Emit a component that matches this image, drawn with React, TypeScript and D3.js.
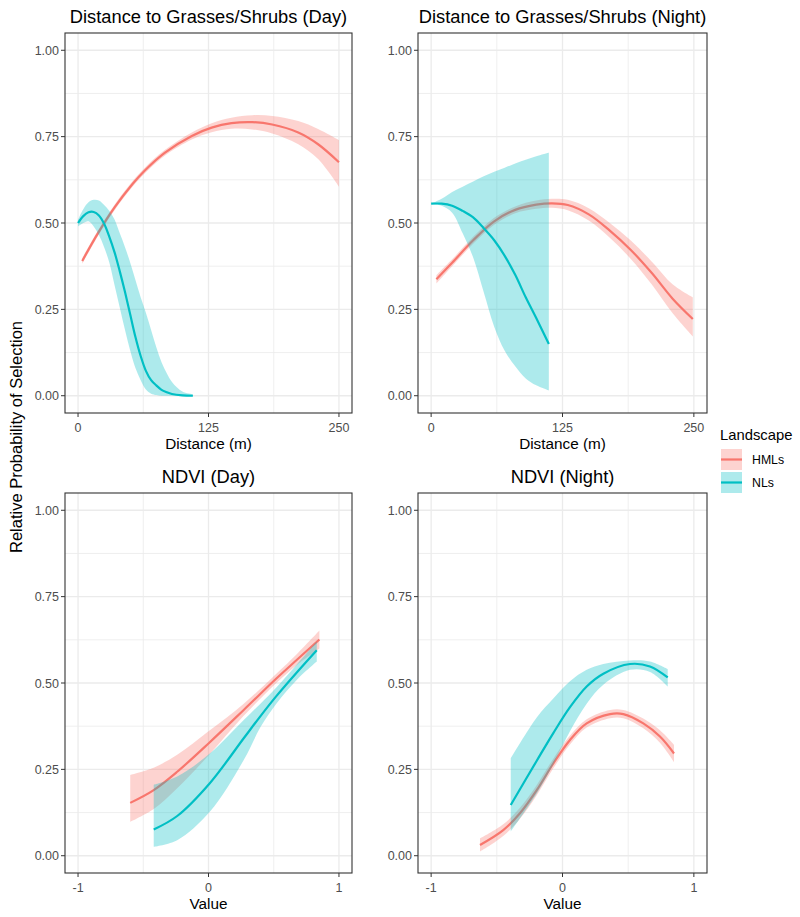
import React from "react";
import * as d3 from "d3";

// ---------- DATA ----------
const landscapes = ["HMLs", "NLs"];
const colors = ["#F8766D", "#00BFC4"];

const yTicks = [0, 0.25, 0.5, 0.75, 1];
const yMinor = [0.125, 0.375, 0.625, 0.875];
const yTickLabels = ["0.00", "0.25", "0.50", "0.75", "1.00"];

const distTicks = [0, 125, 250];
const distMinor = [62.5, 187.5];
const ndviTicks = [-1, 0, 1];
const ndviMinor = [-0.5, 0.5];

const panelTitles = [
  "Distance to Grasses/Shrubs (Day)",
  "Distance to Grasses/Shrubs (Night)",
  "NDVI (Day)",
  "NDVI (Night)",
];
const xTitles = ["Distance (m)", "Distance (m)", "Value", "Value"];
const yTitle = "Relative Probability of Selection";
const legendTitle = "Landscape";

// Distance to Grasses/Shrubs (Day)
const distDayHMLsX = [4, 19, 35, 52, 64, 83, 109, 128, 147, 167, 186, 211, 230, 250];
const distDayHMLsFit = [0.39, 0.47, 0.545, 0.612, 0.652, 0.703, 0.752, 0.776, 0.789, 0.792, 0.785, 0.762, 0.728, 0.676];
const distDayHMLsLo = [0.382, 0.462, 0.537, 0.604, 0.644, 0.695, 0.742, 0.763, 0.773, 0.771, 0.759, 0.728, 0.685, 0.605];
const distDayHMLsHi = [0.398, 0.478, 0.553, 0.62, 0.66, 0.711, 0.762, 0.789, 0.805, 0.812, 0.81, 0.795, 0.772, 0.74];

const distDayNLsX = [0, 5, 10, 15, 20, 25, 30, 35, 40, 45, 50, 55, 60, 65, 70, 75, 80, 85, 90, 100, 110];
const distDayNLsFit = [0.5, 0.52, 0.531, 0.532, 0.522, 0.498, 0.46, 0.415, 0.36, 0.3, 0.235, 0.17, 0.115, 0.072, 0.045, 0.03, 0.017, 0.01, 0.005, 0.001, 0.0];
const distDayNLsLo = [0.49, 0.5, 0.505, 0.49, 0.465, 0.43, 0.385, 0.32, 0.255, 0.19, 0.13, 0.08, 0.045, 0.018, 0.006, 0.002, 0.0, 0.0, 0.0, 0.0, 0.0];
const distDayNLsHi = [0.51, 0.54, 0.56, 0.567, 0.565, 0.552, 0.535, 0.51, 0.47, 0.43, 0.385, 0.335, 0.285, 0.24, 0.19, 0.14, 0.097, 0.065, 0.04, 0.012, 0.004];

// Distance to Grasses/Shrubs (Night)
const distNightHMLsX = [5, 20, 40, 60, 80, 100, 115, 130, 150, 170, 190, 210, 230, 249];
const distNightHMLsFit = [0.337, 0.385, 0.45, 0.505, 0.538, 0.553, 0.557, 0.552, 0.525, 0.478, 0.422, 0.355, 0.28, 0.222];
const distNightHMLsLo = [0.325, 0.375, 0.44, 0.495, 0.528, 0.541, 0.544, 0.537, 0.507, 0.457, 0.396, 0.322, 0.238, 0.172];
const distNightHMLsHi = [0.349, 0.395, 0.46, 0.515, 0.548, 0.565, 0.57, 0.567, 0.543, 0.5, 0.449, 0.388, 0.322, 0.285];

const distNightNLsX = [0, 10, 20, 30, 40, 50, 60, 70, 80, 90, 100, 112];
const distNightNLsFit = [0.556, 0.556, 0.55, 0.535, 0.516, 0.485, 0.45, 0.405, 0.35, 0.285, 0.225, 0.15];
const distNightNLsLo = [0.556, 0.55, 0.53, 0.47, 0.4, 0.3, 0.2, 0.13, 0.085, 0.05, 0.03, 0.015];
const distNightNLsHi = [0.556, 0.57, 0.59, 0.605, 0.62, 0.635, 0.648, 0.66, 0.672, 0.683, 0.693, 0.703];

// NDVI (Day)
const ndviDayHMLsX = [-0.6, -0.42, -0.24, 0, 0.27, 0.52, 0.68, 0.85];
const ndviDayHMLsFit = [0.153, 0.19, 0.243, 0.325, 0.422, 0.513, 0.568, 0.626];
const ndviDayHMLsLo = [0.098, 0.135, 0.195, 0.29, 0.405, 0.5, 0.553, 0.6];
const ndviDayHMLsHi = [0.234, 0.255, 0.292, 0.36, 0.44, 0.527, 0.585, 0.652];

const ndviDayNLsX = [-0.42, -0.24, 0.01, 0.27, 0.4, 0.52, 0.68, 0.83];
const ndviDayNLsFit = [0.076, 0.115, 0.21, 0.34, 0.405, 0.462, 0.532, 0.595];
const ndviDayNLsLo = [0.026, 0.045, 0.127, 0.277, 0.373, 0.44, 0.51, 0.562];
const ndviDayNLsHi = [0.205, 0.229, 0.296, 0.393, 0.441, 0.487, 0.555, 0.62];

// NDVI (Night)
const ndviNightHMLsX = [-0.628, -0.451, -0.324, -0.196, -0.07, 0.057, 0.184, 0.362, 0.463, 0.615, 0.742, 0.849];
const ndviNightHMLsFit = [0.031, 0.074, 0.123, 0.19, 0.267, 0.335, 0.383, 0.41, 0.41, 0.383, 0.345, 0.296];
const ndviNightHMLsLo = [0.012, 0.057, 0.107, 0.175, 0.253, 0.322, 0.371, 0.398, 0.398, 0.369, 0.327, 0.271];
const ndviNightHMLsHi = [0.05, 0.091, 0.139, 0.205, 0.281, 0.348, 0.395, 0.422, 0.422, 0.397, 0.363, 0.321];

const ndviNightNLsX = [-0.394, -0.196, -0.07, 0.057, 0.184, 0.311, 0.514, 0.666, 0.801];
const ndviNightNLsFit = [0.147, 0.275, 0.355, 0.43, 0.49, 0.527, 0.555, 0.548, 0.516];
const ndviNightNLsLo = [0.07, 0.18, 0.265, 0.36, 0.44, 0.495, 0.538, 0.532, 0.49];
const ndviNightNLsHi = [0.282, 0.4, 0.455, 0.505, 0.538, 0.555, 0.565, 0.562, 0.54];

// ---------- helpers ----------
const FONT = "'Liberation Sans', Arial, Helvetica, sans-serif";

type Series = { x: number[]; fit: number[]; lo: number[]; hi: number[] };
const mk = (x: number[], fit: number[], lo: number[], hi: number[]): Series => ({ x, fit, lo, hi });

const panels = [
  {
    left: 65, top: 33, w: 287, h: 380,
    xDomain: [-12.5, 262.5], xTicks: distTicks, xMinor: distMinor, xLabels: distTicks.map(String),
    series: [mk(distDayHMLsX, distDayHMLsFit, distDayHMLsLo, distDayHMLsHi), mk(distDayNLsX, distDayNLsFit, distDayNLsLo, distDayNLsHi)],
  },
  {
    left: 418, top: 33, w: 289, h: 380,
    xDomain: [-12.5, 262.5], xTicks: distTicks, xMinor: distMinor, xLabels: distTicks.map(String),
    series: [mk(distNightHMLsX, distNightHMLsFit, distNightHMLsLo, distNightHMLsHi), mk(distNightNLsX, distNightNLsFit, distNightNLsLo, distNightNLsHi)],
  },
  {
    left: 65, top: 493, w: 287, h: 380,
    xDomain: [-1.1, 1.1], xTicks: ndviTicks, xMinor: ndviMinor, xLabels: ndviTicks.map(String),
    series: [mk(ndviDayHMLsX, ndviDayHMLsFit, ndviDayHMLsLo, ndviDayHMLsHi), mk(ndviDayNLsX, ndviDayNLsFit, ndviDayNLsLo, ndviDayNLsHi)],
  },
  {
    left: 418, top: 493, w: 289, h: 380,
    xDomain: [-1.1, 1.1], xTicks: ndviTicks, xMinor: ndviMinor, xLabels: ndviTicks.map(String),
    series: [mk(ndviNightHMLsX, ndviNightHMLsFit, ndviNightHMLsLo, ndviNightHMLsHi), mk(ndviNightNLsX, ndviNightNLsFit, ndviNightNLsLo, ndviNightNLsHi)],
  },
];

const curve = d3.curveCatmullRom.alpha(0.5);

function Panel({ p, idx }: { p: any; idx: number }) {
  const x = d3.scaleLinear().domain(p.xDomain).range([0, p.w]);
  const y = d3.scaleLinear().domain([-0.05, 1.05]).range([p.h, 0]);
  const clipId = `clip${idx}`;
  return (
    <g transform={`translate(${p.left},${p.top})`}>
      <defs>
        <clipPath id={clipId}>
          <rect x={0} y={0} width={p.w} height={p.h} />
        </clipPath>
      </defs>
      <rect x={0} y={0} width={p.w} height={p.h} fill="#ffffff" />
      {yMinor.map((v) => (
        <line key={"ym" + v} x1={0} x2={p.w} y1={y(v)} y2={y(v)} stroke="#EBEBEB" strokeWidth={0.8} />
      ))}
      {p.xMinor.map((v: number) => (
        <line key={"xm" + v} x1={x(v)} x2={x(v)} y1={0} y2={p.h} stroke="#EBEBEB" strokeWidth={0.8} />
      ))}
      {yTicks.map((v) => (
        <line key={"yM" + v} x1={0} x2={p.w} y1={y(v)} y2={y(v)} stroke="#EBEBEB" strokeWidth={1.3} />
      ))}
      {p.xTicks.map((v: number) => (
        <line key={"xM" + v} x1={x(v)} x2={x(v)} y1={0} y2={p.h} stroke="#EBEBEB" strokeWidth={1.3} />
      ))}
      <g clipPath={`url(#${clipId})`}>
        {p.series.map((s: Series, i: number) => {
          const idxs = d3.range(s.x.length);
          const area = d3
            .area<number>()
            .x((k) => x(s.x[k]))
            .y0((k) => y(s.lo[k]))
            .y1((k) => y(s.hi[k]))
            .curve(curve);
          const line = d3
            .line<number>()
            .x((k) => x(s.x[k]))
            .y((k) => y(s.fit[k]))
            .curve(curve);
          return (
            <g key={i}>
              <path d={area(idxs) || ""} fill={colors[i]} fillOpacity={0.32} stroke="none" />
              <path d={line(idxs) || ""} fill="none" stroke={colors[i]} strokeWidth={2.2} />
            </g>
          );
        })}
      </g>
      <rect x={0} y={0} width={p.w} height={p.h} fill="none" stroke="#333333" strokeWidth={1.1} />
      {/* y axis */}
      {yTicks.map((v, k) => (
        <g key={"yt" + v}>
          <line x1={-4} x2={0} y1={y(v)} y2={y(v)} stroke="#333333" strokeWidth={1} />
          <text x={-6} y={y(v)} dy="0.36em" textAnchor="end" fontFamily={FONT} fontSize={12.5} fill="#4D4D4D">
            {yTickLabels[k]}
          </text>
        </g>
      ))}
      {/* x axis */}
      {p.xTicks.map((v: number, k: number) => (
        <g key={"xt" + v}>
          <line x1={x(v)} x2={x(v)} y1={p.h} y2={p.h + 4} stroke="#333333" strokeWidth={1} />
          <text x={x(v)} y={p.h + 19} textAnchor="middle" fontFamily={FONT} fontSize={12.5} fill="#4D4D4D">
            {p.xLabels[k]}
          </text>
        </g>
      ))}
      <text x={p.w / 2} y={-10} textAnchor="middle" fontFamily={FONT} fontSize={18.3} fill="#000000">
        {panelTitles[idx]}
      </text>
      <text x={p.w / 2} y={p.h + 36} textAnchor="middle" fontFamily={FONT} fontSize={15.3} fill="#000000">
        {xTitles[idx]}
      </text>
    </g>
  );
}

export default function App() {
  return (
    <svg
      width={800}
      height={917}
      viewBox="0 0 800 917"
      style={{ position: "absolute", left: 0, top: 0, display: "block", background: "#ffffff" }}
    >
      <rect x={0} y={0} width={800} height={917} fill="#ffffff" />
      {panels.map((p, i) => (
        <Panel key={i} p={p} idx={i} />
      ))}
      <text
        transform="translate(22,437) rotate(-90)"
        textAnchor="middle"
        fontFamily={FONT}
        fontSize={16.5}
        fill="#000000"
      >
        {yTitle}
      </text>
      {/* legend */}
      <g>
        <text x={720} y={440} fontFamily={FONT} fontSize={14.8} fill="#000000">
          {legendTitle}
        </text>
        {landscapes.map((name, i) => {
          const ky = 449 + i * 23;
          return (
            <g key={name}>
              <rect x={721} y={ky} width={21} height={21} fill={colors[i]} fillOpacity={0.32} />
              <line x1={721} x2={742} y1={ky + 10.5} y2={ky + 10.5} stroke={colors[i]} strokeWidth={2.2} />
              <text x={752} y={ky + 10.5} dy="0.36em" fontFamily={FONT} fontSize={12.3} fill="#000000">
                {name}
              </text>
            </g>
          );
        })}
      </g>
    </svg>
  );
}
